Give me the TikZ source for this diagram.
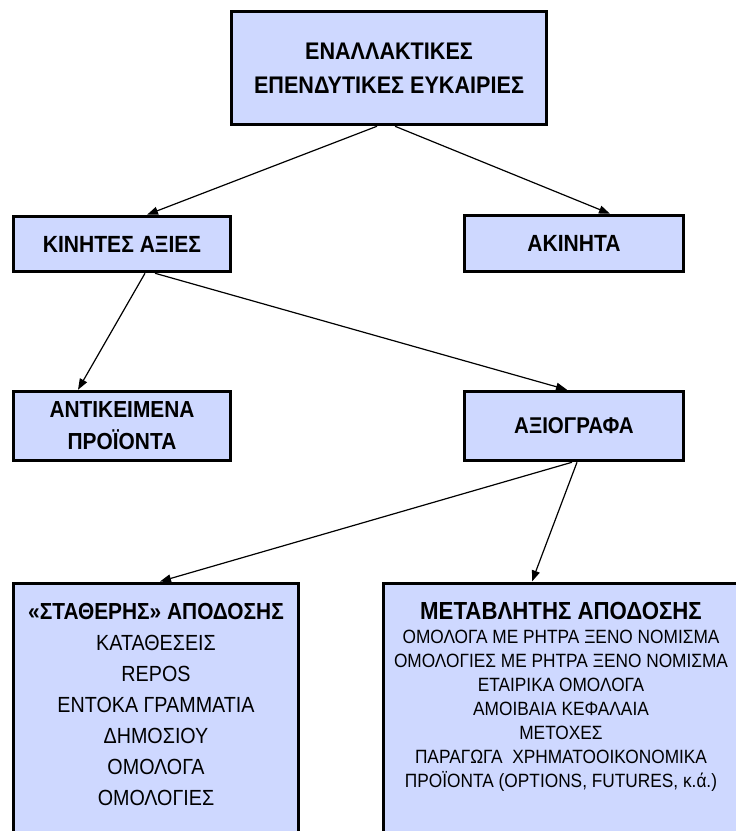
\documentclass[tikz,border=0pt]{standalone}
\usepackage{fontspec}
\setmainfont[FakeStretch=0.9]{Liberation Sans}
\usetikzlibrary{arrows.meta, positioning}
\definecolor{boxBlue}{RGB}{206, 216, 255}
\colorlet{box edge}{black}
\colorlet{box area}{boxBlue}
\tikzset{
    filled/.style={fill=box area, draw=box edge, line width=3.5pt, inner sep=0pt, align=center},
    head/.style={font=\fontsize{23.4}{33}\selectfont\bfseries},
    link/.style={-{Triangle[length=11pt, width=8pt]}, line width=1.2pt}
}

\begin{document}
\begin{tikzpicture}[x=1pt, y=-1pt]
    % Fix the page to the size of the picture
    \useasboundingbox (0,0) rectangle (736,831);
    \clip (0,0) rectangle (736,831);

    % Draw the boxes of the upper levels
    \node[filled, head, minimum width=315pt, minimum height=113pt, font=\fontsize{24}{34}\selectfont\bfseries] (alt) at (389,68) {ΕΝΑΛΛΑΚΤΙΚΕΣ\\ΕΠΕΝΔΥΤΙΚΕΣ ΕΥΚΑΙΡΙΕΣ};
    \node[filled, head, minimum width=217pt, minimum height=55pt] (movable) at (122,244) {ΚΙΝΗΤΕΣ ΑΞΙΕΣ};
    \node[filled, head, minimum width=219pt, minimum height=56pt] (property) at (574,243.5) {ΑΚΙΝΗΤΑ};
    \node[filled, head, minimum width=217pt, minimum height=69pt, font=\fontsize{23.2}{32}\selectfont\bfseries] (goods) at (122,426) {ΑΝΤΙΚΕΙΜΕΝΑ\\ΠΡΟΪΟΝΤΑ};
    \node[filled, head, minimum width=219pt, minimum height=69pt, font=\fontsize{22.8}{32}\selectfont\bfseries] (securities) at (574,426) {ΑΞΙΟΓΡΑΦΑ};

    % Draw the two lower boxes, they run past the bottom edge
    \node[filled, anchor=north, minimum width=285pt, minimum height=300pt] (fixed) at (156,581.5) {};
    \node[filled, anchor=north, minimum width=355pt, minimum height=300pt] (variable) at (561,581.5) {};
    \node[align=center, inner sep=0pt, anchor=north, font=\fontsize{21.9}{31}\selectfont, below=22pt of fixed.north] (fixedtext)
        {{\fontsize{23.2}{31}\selectfont\bfseries «ΣΤΑΘΕΡΗΣ» ΑΠΟΔΟΣΗΣ}\\ΚΑΤΑΘΕΣΕΙΣ\\REPOS\\ΕΝΤΟΚΑ ΓΡΑΜΜΑΤΙΑ\\ΔΗΜΟΣΙΟΥ\\ΟΜΟΛΟΓΑ\\ΟΜΟΛΟΓΙΕΣ};
    \node[align=center, inner sep=0pt, anchor=north, font=\fontsize{19.2}{24}\selectfont, below=21pt of variable.north] (variabletext)
        {{\fontsize{24.7}{26}\selectfont\bfseries ΜΕΤΑΒΛΗΤΗΣ ΑΠΟΔΟΣΗΣ}\\ΟΜΟΛΟΓΑ ΜΕ ΡΗΤΡΑ ΞΕΝΟ ΝΟΜΙΣΜΑ\\ΟΜΟΛΟΓΙΕΣ ΜΕ ΡΗΤΡΑ ΞΕΝΟ ΝΟΜΙΣΜΑ\\ΕΤΑΙΡΙΚΑ ΟΜΟΛΟΓΑ\\ΑΜΟΙΒΑΙΑ ΚΕΦΑΛΑΙΑ\\ΜΕΤΟΧΕΣ\\ΠΑΡΑΓΩΓΑ\ \ ΧΡΗΜΑΤΟΟΙΚΟΝΟΜΙΚΑ\\ΠΡΟΪΟΝΤΑ (OPTIONS, FUTURES, κ.ά.)};

    % Draw the arrows between the levels
    \draw[link] ([xshift=-12pt]alt.south) -- ([xshift=25pt]movable.north);
    \draw[link] ([xshift=6pt]alt.south) -- ([xshift=36pt]property.north);
    \draw[link] ([xshift=23pt]movable.south) -- ([xshift=-44pt]goods.north);
    \draw[link] ([xshift=33pt]movable.south) -- ([xshift=-7pt]securities.north);
    \draw[link] ([xshift=-2pt]securities.south) -- ([xshift=4pt]fixed.north);
    \draw[link] ([xshift=3pt]securities.south) -- ([xshift=-29pt]variable.north);
\end{tikzpicture}
\end{document}
